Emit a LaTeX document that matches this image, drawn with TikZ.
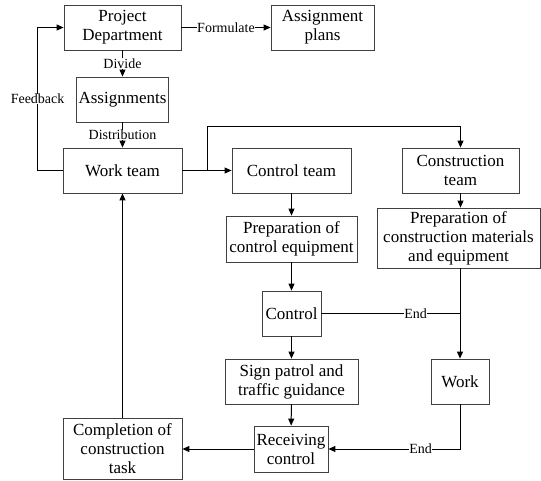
\documentclass[tikz,border=0pt]{standalone}
\usepackage{fontspec}
\setmainfont{Liberation Serif}
\usetikzlibrary{arrows.meta}
\begin{document}
\begin{tikzpicture}[x=1pt,y=-1pt,
 box/.style={draw=black!75, line width=0.8pt, fill=white, align=center, inner sep=1pt, font=\rmfamily\fontsize{17}{19}\selectfont},
 conn/.style={line width=1pt, -{Triangle[length=7pt,width=6pt]}},
 plain/.style={line width=1pt},
 lbl/.style={fill=white, inner sep=0.5pt, font=\rmfamily\fontsize{14}{16}\selectfont}]
\useasboundingbox[fill=white] (0,0) rectangle (541,480);

\node[box, minimum width=117pt, minimum height=45pt] (pd) at (122.5,27.5) {Project\\Department};
\node[box, minimum width=103pt, minimum height=45pt] (ap) at (322.5,27.5) {Assignment\\plans};
\node[box, minimum width=92pt, minimum height=45pt] (as) at (122.5,99.5) {Assignments};
\node[box, minimum width=119pt, minimum height=45pt] (wt) at (122.5,170.5) {Work team};
\node[box, minimum width=119pt, minimum height=45pt] (ct) at (291.5,170.5) {Control team};
\node[box, minimum width=117pt, minimum height=45pt] (cons) at (460.5,170.5) {Construction\\team};
\node[box, minimum width=131pt, minimum height=46pt] (pce) at (291.5,239) {Preparation of\\control equipment};
\node[box, minimum width=163pt, minimum height=60pt] (pcm) at (458.5,238) {Preparation of\\construction materials\\and equipment};
\node[box, minimum width=59pt, minimum height=45pt] (ctl) at (291.5,313.5) {Control};
\node[box, minimum width=133pt, minimum height=45pt] (sp) at (291.5,381.5) {Sign patrol and\\traffic guidance};
\node[box, minimum width=58pt, minimum height=45pt] (wk) at (460,381.5) {Work};
\node[box, minimum width=74pt, minimum height=46pt] (rc) at (291,449) {Receiving\\control};
\node[box, minimum width=119pt, minimum height=61pt] (comp) at (122.5,448.5) {Completion of\\construction\\task};

\draw[conn] (pd) -- node[lbl]{Formulate} (ap);
\draw[conn] (pd) -- node[lbl]{Divide} (as);
\draw[conn] (as) -- node[lbl]{Distribution} (wt);
\draw[conn] (wt.west) -- ++(-25,0) |- node[lbl, pos=0.25]{Feedback} (pd.west);
\draw[conn] (wt) -- (ct);
\coordinate (br) at (207,170.5);
\coordinate (top) at (207,126);
\draw[conn] (br) -- (top) -| (cons.north);
\draw[conn] (ct) -- (pce);
\draw[conn] (pce) -- (ctl);
\draw[conn] (ctl) -- (sp);
\draw[conn] (sp) -- (rc);
\draw[conn] (cons.south) -- (cons.south |- pcm.north);
\draw[conn] (pcm.south -| wk.north) -- (wk.north);
\draw[plain] (ctl.east) -- node[lbl, pos=0.68]{End} (ctl.east -| wk.north);
\draw[conn] (wk.south) |- node[lbl, pos=0.65]{End} (rc.east);
\draw[conn] (rc.west) -- (rc.west -| comp.east);
\draw[conn] (comp.north) -- (wt.south);
\end{tikzpicture}
\end{document}
